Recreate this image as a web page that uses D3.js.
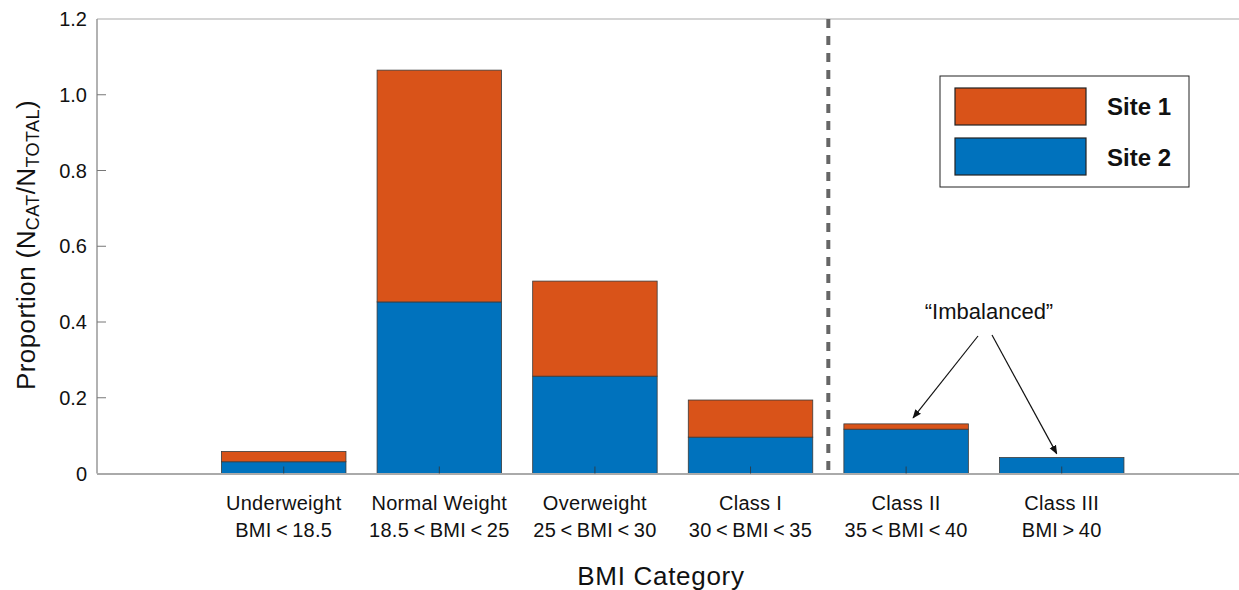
<!DOCTYPE html>
<html><head><meta charset="utf-8">
<script src="https://cdn.jsdelivr.net/npm/d3@7"></script>
<style>body{margin:0;background:#fff;} text{font-family:"Liberation Sans",Arial,sans-serif;}</style>
</head><body>
<svg id="c" width="1239" height="590"></svg>
<script>
const categories = ["Underweight","Normal Weight","Overweight","Class I","Class II","Class III"];
const rangeLabels = ["BMI\u2009<\u200918.5","18.5\u2009<\u2009BMI\u2009<\u200925","25\u2009<\u2009BMI\u2009<\u200930","30\u2009<\u2009BMI\u2009<\u200935","35\u2009<\u2009BMI\u2009<\u200940","BMI\u2009>\u200940"];
const site2 = [0.031, 0.453, 0.257, 0.096, 0.117, 0.042];
const site1 = [0.027, 0.612, 0.251, 0.098, 0.014, 0.000];
const yTicks = [0, 0.2, 0.4, 0.6, 0.8, 1.0, 1.2];
const seriesNames = ["Site 1","Site 2"];
const colors = {"Site 1":"#D95319","Site 2":"#0072BD"};

const svg = d3.select("#c");
const L = 97, T = 19, B = 473.5, R = 1239;
const x = d3.scaleLinear().domain([-0.2, 7.1]).range([L, L + (7.3)*155.6]);
const y = d3.scaleLinear().domain([0, 1.2]).range([B, T]);
const bw = x(0.8) - x(0);

// frame
svg.append("line").attr("x1",L).attr("x2",R).attr("y1",T).attr("y2",T).attr("stroke","#aaa").attr("stroke-width",1.2);
svg.append("line").attr("x1",L).attr("x2",L).attr("y1",T).attr("y2",B).attr("stroke","#999").attr("stroke-width",1.5);

// stacked bars
const g = svg.append("g");
categories.forEach((c,i)=>{
  const xc = x(i+1);
  g.append("rect").attr("x",xc-bw/2).attr("width",bw)
    .attr("y",y(site2[i])).attr("height",y(0)-y(site2[i]))
    .attr("fill",colors["Site 2"]).attr("stroke","#3a3a3a").attr("stroke-width",0.8);
  if (site1[i] > 0) {
    g.append("rect").attr("x",xc-bw/2).attr("width",bw)
      .attr("y",y(site2[i]+site1[i])).attr("height",y(site2[i])-y(site2[i]+site1[i]))
      .attr("fill",colors["Site 1"]).attr("stroke","#3a3a3a").attr("stroke-width",0.8);
  }
});

// bottom axis line
svg.append("line").attr("x1",L).attr("x2",R).attr("y1",B+0.5).attr("y2",B+0.5).attr("stroke","#aaa").attr("stroke-width",2);
// bottom inner ticks
categories.forEach((c,i)=>{
  svg.append("line").attr("x1",x(i+1)).attr("x2",x(i+1)).attr("y1",B).attr("y2",B-7).attr("stroke","#333").attr("stroke-width",0.8);
});

// y axis ticks & labels
yTicks.forEach(t=>{
  if (t>0 && t<1.2) svg.append("line").attr("x1",L).attr("x2",L+9).attr("y1",y(t)).attr("y2",y(t)).attr("stroke","#777").attr("stroke-width",1);
  svg.append("text").attr("x",87).attr("y",y(t)).attr("dy","0.36em").attr("text-anchor","end")
    .attr("font-size",20).attr("fill","#111").text(t===0?"0":t.toFixed(1));
});

// category labels
categories.forEach((c,i)=>{
  const t = svg.append("text").attr("text-anchor","middle").attr("font-size",20).attr("letter-spacing",0.3).attr("fill","#111");
  t.append("tspan").attr("x",x(i+1)).attr("y",510).text(c);
  t.append("tspan").attr("x",x(i+1)).attr("y",537).text(rangeLabels[i]);
});

// axis titles
svg.append("text").attr("x",661).attr("y",585).attr("text-anchor","middle").attr("font-size",26).attr("letter-spacing",0.7).attr("fill","#111").text("BMI Category");
const yl = svg.append("text").attr("transform","translate(35,245) rotate(-90)").attr("text-anchor","middle").attr("font-size",26).attr("letter-spacing",0.4).attr("fill","#111");
yl.append("tspan").text("Proportion (N");
yl.append("tspan").attr("font-size",18).attr("dy",4).text("CAT");
yl.append("tspan").attr("dy",-4).text("/N");
yl.append("tspan").attr("font-size",18).attr("dy",4).text("TOTAL");
yl.append("tspan").attr("dy",-4).text(")");

// dashed separator
svg.append("line").attr("x1",x(4.5)).attr("x2",x(4.5)).attr("y1",T).attr("y2",B)
  .attr("stroke","#666").attr("stroke-width",4).attr("stroke-dasharray","9,8");

// legend
const lg = svg.append("g");
lg.append("rect").attr("x",940).attr("y",76).attr("width",249).attr("height",111).attr("fill","#fff").attr("stroke","#222").attr("stroke-width",1);
seriesNames.forEach((s,k)=>{
  lg.append("rect").attr("x",955).attr("y",88+k*50).attr("width",131).attr("height",37)
    .attr("fill",colors[s]).attr("stroke","#222").attr("stroke-width",1.2);
  lg.append("text").attr("x",1107).attr("y",106+k*51).attr("dy","0.36em").attr("font-size",24).attr("font-weight","bold").attr("fill","#111").text(s);
});

// annotation
svg.append("defs").append("marker").attr("id","ah").attr("viewBox","0 0 10 10").attr("refX",9).attr("refY",5)
  .attr("markerWidth",9).attr("markerHeight",9).attr("markerUnits","userSpaceOnUse").attr("orient","auto")
  .append("path").attr("d","M0,1 L10,5 L0,9 Z").attr("fill","#111");
svg.append("text").attr("x",989).attr("y",319).attr("text-anchor","middle").attr("font-size",22).attr("fill","#111").text("\u201CImbalanced\u201D");
svg.append("line").attr("x1",978).attr("y1",336).attr("x2",x(5)+7).attr("y2",y(site2[4]+site1[4])-6)
  .attr("stroke","#111").attr("stroke-width",1.2).attr("marker-end","url(#ah)");
svg.append("line").attr("x1",992).attr("y1",335).attr("x2",x(6)-5).attr("y2",y(site2[5])-4)
  .attr("stroke","#111").attr("stroke-width",1.2).attr("marker-end","url(#ah)");
</script>
</body></html>
